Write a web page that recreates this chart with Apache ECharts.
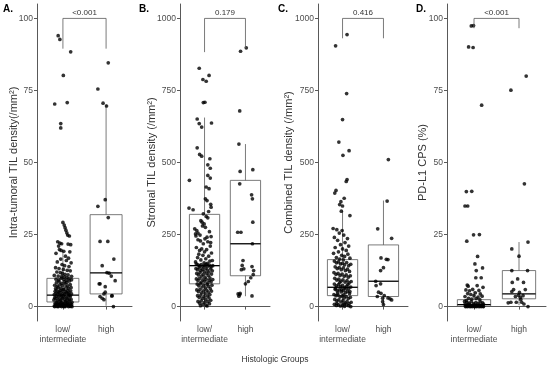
<!DOCTYPE html>
<html><head><meta charset="utf-8">
<script src="https://cdn.jsdelivr.net/npm/echarts@6/dist/echarts.min.js"></script>
<style>html,body{margin:0;padding:0;background:#fff}#c{width:550px;height:372px}</style>
</head><body><div id="c"></div><script>
// ---------- data ----------
const groups = ['low/\nintermediate', 'high'];
const panelLetters = ['A.', 'B.', 'C.', 'D.'];
const yTitles = ['Intra-tumoral TIL density(/mm²)', 'Stromal TIL density (/mm²)', 'Combined TIL density (/mm²)', 'PD-L1 CPS (%)'];
const xTitle = 'Histologic Groups';
const ticksPct = [0, 25, 50, 75, 100];
const ticksDens = [0, 250, 500, 750, 1000];
const pValues = ['<0.001', '0.179', '0.416', '<0.001'];

// points: [jittered group position, value]
const aLow = [
[0.89,94.0],[0.93,92.7],[1.18,88.4],[1.01,80.2],[1.10,70.8],[0.81,70.3],[0.95,63.5],[0.95,62.0],
[1.00,29.2],[1.03,28.3],[1.05,27.4],[1.07,26.5],[1.09,25.6],[1.11,24.8],[1.15,24.5],
[0.88,22.5],[0.93,22.0],[0.97,21.8],[1.12,21.7],[1.18,21.5],[0.90,21.0],
[0.92,19.8],[0.96,19.5],[1.02,19.2],[1.16,19.0],[0.84,18.5],
[1.06,17.5],[1.13,16.8],[0.95,16.5],[1.08,16.0],[0.87,15.5],[1.19,15.2],
[0.98,14.6],[1.04,14.2],[1.14,13.9],[0.83,13.5],[0.91,13.2],[1.01,12.9],[1.10,12.6],[1.17,12.4],
[0.86,12.0],[0.94,11.8],[0.99,11.5],[1.05,11.2],[1.12,11.0],[0.80,10.8],[0.89,10.6],[0.97,10.4],[1.03,10.3],[1.09,10.1],[1.20,10.5],
[0.84,9.5],[0.90,9.2],[0.96,9.8],[1.02,9.4],[1.08,9.1],[1.14,9.7],[1.20,9.3],
[0.85,8.3],[0.91,8.8],[0.97,8.1],[1.03,8.6],[1.09,8.4],[1.15,8.9],
[0.81,7.4],[0.87,7.1],[0.93,7.7],[0.99,7.3],[1.05,7.9],[1.11,7.2],[1.17,7.6],
[0.83,6.2],[0.89,6.7],[0.95,6.4],[1.01,6.1],[1.07,6.8],[1.13,6.3],[1.19,6.6],
[0.82,5.3],[0.86,5.8],[0.90,5.1],[0.94,5.6],[0.98,5.4],[1.02,5.9],[1.06,5.2],[1.10,5.7],[1.14,5.0],[1.18,5.5],
[0.80,4.2],[0.84,4.7],[0.88,4.4],[0.92,4.9],[0.96,4.1],[1.00,4.6],[1.04,4.3],[1.08,4.8],[1.12,4.5],[1.16,4.0],[1.20,4.4],
[0.81,3.1],[0.85,3.6],[0.89,3.3],[0.93,3.9],[0.97,3.2],[1.01,3.7],[1.05,3.4],[1.09,3.0],[1.13,3.8],[1.17,3.5],
[0.79,2.3],[0.83,2.8],[0.87,2.1],[0.91,2.6],[0.95,2.2],[0.99,2.9],[1.03,2.4],[1.07,2.0],[1.11,2.7],[1.15,2.3],[1.19,2.5],
[0.82,1.2],[0.86,1.6],[0.90,1.1],[0.94,1.9],[0.98,1.4],[1.02,1.0],[1.06,1.7],[1.10,1.3],[1.14,1.8],[1.18,1.1],[1.21,1.5],
[0.80,0.2],[0.84,0.5],[0.88,0.1],[0.92,0.8],[0.96,0.3],[1.00,0.6],[1.04,0.1],[1.08,0.9],[1.12,0.4],[1.16,0.2],[1.20,0.7],
[0.81,0.0],[0.85,0.1],[0.89,0.0],[0.93,0.2],[0.97,0.0],[1.01,0.1],[1.05,0.0],[1.09,0.3],[1.13,0.0],[1.17,0.1],[1.21,0.0],
[0.83,0.7],[0.87,0.9],[0.91,0.5],[0.95,1.0],[0.99,0.8],[1.03,0.6],[1.07,0.4],[1.11,0.9],[1.15,0.6],[1.19,0.3]
];
const aHigh = [
[2.05,84.6],[1.81,75.5],[1.93,70.6],[2.01,69.6],[1.98,37.1],[1.81,34.8],[2.05,30.9],[1.86,22.6],[2.04,22.6],
[2.18,16.5],[1.91,14.2],[2.02,11.8],[2.07,11.6],[2.12,10.6],[2.21,9.0],[1.84,7.9],[1.86,7.9],[1.98,6.9],
[1.98,5.0],[1.95,4.4],[1.86,3.5],[1.91,2.9],[1.95,2.4],[2.13,3.7],[2.14,3.8],[2.17,0.0]
];
const bLow = [
[0.87,827],[1.11,802],[0.96,788],[1.04,782],[0.97,708],[1.01,709],[0.82,651],[0.87,635],[0.93,623],[1.17,637],
[0.82,551],[0.88,528],[0.93,522],[1.13,513],[1.08,492],[1.14,480],[0.63,438],[1.08,455],[1.14,446],[1.04,415],
[1.11,409],[1.02,374],[1.06,368],[1.15,355],[1.16,345],[0.62,342],[0.97,322],[1.04,313],[1.08,308],[0.91,298],
[0.94,293],[0.99,287],[1.10,330],[0.72,336],
[0.81,264],[0.84,255],[0.89,248],[1.06,241],[1.16,243],[0.84,232],[0.97,218],[0.76,270],[0.78,252],[0.79,245],
[1.12,260],[0.95,280],[1.02,275],[0.90,228],[1.08,225],[1.14,210],[0.80,205],[0.93,200],[1.05,198],[1.00,190],
[1.17,186],[0.86,182],[0.96,178],[1.10,175],[0.83,170],[1.03,166],[0.91,162],[1.13,158],[0.78,155],[0.99,152],
[1.07,150],[1.19,160],[0.88,195],[1.01,235],[1.15,222],
[0.80,148],[0.84,145],[0.88,141],[0.92,146],[0.96,139],[1.00,143],[1.04,147],[1.08,140],[1.12,144],[1.16,138],[1.20,142],
[0.79,132],[0.83,128],[0.87,135],[0.91,125],[0.95,130],[0.99,122],[1.03,133],[1.07,127],[1.11,120],[1.15,131],[1.19,124],
[0.81,115],[0.85,110],[0.89,118],[0.93,106],[0.97,112],[1.01,102],[1.05,116],[1.09,108],[1.13,100],[1.17,113],
[0.80,96],[0.84,90],[0.88,98],[0.92,85],[0.96,93],[1.00,88],[1.04,95],[1.08,82],[1.12,91],[1.16,86],[1.20,94],
[0.82,78],[0.86,72],[0.90,80],[0.94,68],[0.98,75],[1.02,65],[1.06,77],[1.10,70],[1.14,62],[1.18,74],
[0.81,58],[0.85,52],[0.89,60],[0.93,48],[0.97,55],[1.01,45],[1.05,57],[1.09,50],[1.13,42],[1.17,54],
[0.83,38],[0.87,32],[0.91,40],[0.95,28],[0.99,35],[1.03,25],[1.07,37],[1.11,30],[1.15,22],
[0.84,18],[0.88,12],[0.92,20],[0.96,8],[1.00,15],[1.04,5],[1.08,17],[1.12,10],[0.90,3],[1.06,2]
];
const bHigh = [
[1.88,886],[2.02,898],[1.86,679],[1.84,564],[1.87,469],[2.18,475],[1.86,426],[2.15,388],[2.17,374],[2.18,293],
[1.81,258],[1.89,258],[2.17,218],[1.94,160],[1.92,143],[1.96,131],[1.90,128],[2.16,139],[2.20,125],[2.19,111],
[2.13,100],[2.07,87],[2.00,79],[1.82,44],[1.86,42],[1.84,36],[2.16,37],[1.87,46]
];
const cLow = [
[0.83,905],[1.11,944],[1.10,739],[1.00,649],[0.91,571],[1.16,541],[1.01,525],[1.11,441],[1.09,434],[0.84,403],
[0.81,394],[1.04,376],[0.96,364],[0.93,354],[1.00,349],[0.97,331],[1.18,316],[0.77,271],[0.86,267],[0.99,264],
[0.92,255],[1.03,248],[0.80,240],[1.12,236],[0.88,230],[1.06,222],[0.95,215],[1.15,210],[0.82,205],[1.00,200],
[1.09,195],[0.90,190],[0.78,185],[1.13,182],[0.98,178],[1.05,174],[0.85,170],[1.18,168],[0.93,165],[1.02,162],
[0.80,158],[0.85,152],[0.90,155],[0.95,148],[1.00,150],[1.05,145],[1.10,153],[1.15,142],[1.20,147],
[0.82,138],[0.87,132],[0.92,135],[0.97,128],[1.02,134],[1.07,125],[1.12,130],[1.17,122],
[0.79,118],[0.84,112],[0.89,115],[0.94,108],[0.99,113],[1.04,105],[1.09,110],[1.14,102],[1.19,107],
[0.81,98],[0.86,92],[0.91,95],[0.96,88],[1.01,93],[1.06,85],[1.11,90],[1.16,82],[1.21,87],
[0.80,78],[0.85,72],[0.90,76],[0.95,69],[1.00,74],[1.05,66],[1.10,71],[1.15,63],[1.20,68],
[0.82,60],[0.87,55],[0.92,58],[0.97,51],[1.02,56],[1.07,48],[1.12,53],[1.17,45],
[0.79,42],[0.84,38],[0.89,40],[0.94,34],[0.99,37],[1.04,30],[1.09,35],[1.14,28],[1.19,32],
[0.81,25],[0.86,20],[0.91,23],[0.96,16],[1.01,21],[1.06,13],[1.11,18],[1.16,10],[1.21,15],
[0.80,8],[0.85,4],[0.90,6],[0.95,2],[1.00,5],[1.05,1],[1.10,7],[1.15,3],[1.20,0],
[0.83,64],[0.88,47],[0.93,83],[0.98,59],[1.03,41],[1.08,62],[1.13,77],[1.18,52],[0.86,11],[1.04,9]
];
const cHigh = [
[2.12,510],[2.09,366],[1.86,270],[2.20,237],[1.94,169],[2.07,164],[2.11,163],[2.00,135],[1.93,125],[1.81,88],
[1.82,73],[1.93,79],[1.88,50],[1.94,46],[2.02,38],[2.11,30],[2.16,27],[2.20,23],[1.98,29],[1.85,35],
[2.00,7],[1.98,17]
];
const dLow = [
[0.94,97.4],[0.99,97.5],[0.88,90.1],[0.98,89.9],[1.17,69.9],[0.83,39.9],[0.95,40.0],[0.80,34.9],[0.86,34.9],
[0.99,24.9],[1.12,25.0],[0.84,22.7],[1.08,17.4],[1.02,14.8],[1.19,13.4],[1.05,12.5],[1.04,10.0],[1.16,10.0],
[0.85,7.5],[0.87,7.1],[1.07,7.3],[1.20,6.7],
[0.82,5.8],[0.90,5.5],[0.97,6.0],[1.11,5.6],[1.03,4.8],[0.86,4.5],[0.93,4.2],[1.14,4.4],[1.00,3.8],[0.80,3.5],
[1.09,3.3],[1.18,3.6],[0.88,2.9],[0.95,2.6],[1.05,2.8],[1.13,2.4],[0.83,2.1],
[0.79,1.8],[0.84,1.5],[0.89,1.2],[0.94,1.7],[0.99,1.0],[1.04,1.4],[1.09,1.1],[1.14,1.6],[1.19,1.3],[1.21,0.9],
[0.80,0.8],[0.85,0.5],[0.90,0.7],[0.95,0.3],[1.00,0.6],[1.05,0.2],[1.10,0.5],[1.15,0.4],[1.20,0.1],
[0.81,0],[0.83,0.1],[0.86,0],[0.88,0.2],[0.91,0],[0.93,0.1],[0.96,0],[0.98,0.2],[1.01,0],[1.03,0.1],
[1.06,0],[1.08,0.3],[1.11,0],[1.13,0.1],[1.16,0],[1.18,0.2],[1.21,0]
];
const dHigh = [
[2.16,80.0],[1.82,75.1],[2.12,42.6],[2.20,22.4],[1.84,20.0],[2.00,17.5],[1.84,12.5],[2.19,12.5],[1.97,9.6],
[1.85,8.4],[2.10,8.4],[1.88,5.9],[2.14,5.9],[1.84,5.2],[2.01,4.9],[1.99,3.9],[2.09,3.8],[1.92,3.5],[2.03,3.2],
[1.82,1.5],[1.94,1.5],[1.76,1.3],[2.06,1.5],[2.11,0.9],[2.20,0.0],[2.04,2.5]
];

// boxes: [group, lower whisker, Q1, median, Q3, upper whisker]
const aBox = [[1, 0, 1.6, 4.0, 9.8, 19.5], [2, 0.3, 4.4, 11.7, 31.9, 70.2]];
const bBox = [[1, 3, 79, 142, 320, 656], [2, 36, 107, 218, 438, 564]];
const cBox = [[1, 0, 38, 67, 163, 334], [2, 5, 35, 88, 214, 368]];
const dBox = [[1, 0, 0.1, 0.7, 2.4, 5.5], [2, 0.5, 2.7, 4.4, 12.5, 22.4]];

// brackets: [from group, to group, top, left leg end, right leg end]
const aBracket = [1, 2, 100, 89.5, 89.5];
const bBracket = [1, 2, 1000, 883, 897];
const cBracket = [1, 2, 1000, 931, 931];
const dBracket = [1, 2, 100, 96.6, 96.6];

// ---------- layout / style ----------
const FONT = 'Liberation Sans, Arial, sans-serif';
const panels = [
  {left: 37, width: 95, min: -5, max: 105, ticks: ticksPct, nameGap: 18, letterX: 3, low: aLow, high: aHigh, box: aBox, br: aBracket},
  {left: 180, width: 90, min: -50, max: 1050, ticks: ticksDens, nameGap: 23, letterX: 139, low: bLow, high: bHigh, box: bBox, br: bBracket},
  {left: 318, width: 90, min: -50, max: 1050, ticks: ticksDens, nameGap: 24, letterX: 278, low: cLow, high: cHigh, box: cBox, br: cBracket},
  {left: 447, width: 99, min: -5, max: 105, ticks: ticksPct, nameGap: 19, letterX: 416, low: dLow, high: dHigh, box: dBox, br: dBracket}
];
const TOP = 4, HEIGHT = 317;

function renderBox(params, api) {
  const x = api.value(0), hw = 0.37;
  const tl = api.coord([x - hw, api.value(4)]);
  const br = api.coord([x + hw, api.value(2)]);
  const mL = api.coord([x - hw, api.value(3)]);
  const mR = api.coord([x + hw, api.value(3)]);
  const wLo = api.coord([x, api.value(1)]);
  const q1 = api.coord([x, api.value(2)]);
  const q3 = api.coord([x, api.value(4)]);
  const wHi = api.coord([x, api.value(5)]);
  const st = {stroke: '#595959', lineWidth: 0.8, fill: null};
  return {type: 'group', children: [
    {type: 'line', shape: {x1: wHi[0], y1: wHi[1], x2: q3[0], y2: q3[1]}, style: st},
    {type: 'line', shape: {x1: q1[0], y1: q1[1], x2: wLo[0], y2: wLo[1]}, style: st},
    {type: 'rect', shape: {x: tl[0], y: tl[1], width: br[0] - tl[0], height: br[1] - tl[1]}, style: {stroke: '#595959', lineWidth: 0.8, fill: 'rgba(255,255,255,0)'}},
    {type: 'line', shape: {x1: mL[0], y1: mL[1], x2: mR[0], y2: mR[1]}, style: {stroke: '#000', lineWidth: 1.3}}
  ]};
}
function makeBracketRenderer(label) {
  return function (params, api) {
    const x1 = api.value(0), x2 = api.value(1), top = api.value(2);
    const a = api.coord([x1, api.value(3)]), b = api.coord([x1, top]);
    const c = api.coord([x2, top]), d = api.coord([x2, api.value(4)]);
    return {type: 'group', children: [
      {type: 'polyline', shape: {points: [a, b, c, d]}, style: {stroke: '#595959', lineWidth: 0.8, fill: null}},
      {type: 'text', x: (b[0] + c[0]) / 2, y: b[1] - 1.5, style: {text: label, fill: '#333', fontSize: 8, fontFamily: FONT, align: 'center', verticalAlign: 'bottom'}}
    ]};
  };
}

const grid = [], xAxis = [], yAxis = [], series = [], graphic = [];
panels.forEach((p, i) => {
  grid.push({left: p.left, width: p.width, top: TOP, height: HEIGHT, containLabel: false});
  xAxis.push({
    type: 'value', gridIndex: i, min: 0.4, max: 2.6,
    splitLine: {show: false},
    axisLine: {show: true, lineStyle: {color: '#595959', width: 1}},
    axisTick: {show: true, customValues: [1, 2], length: 3, lineStyle: {color: '#595959'}},
    axisLabel: {customValues: [1, 2], formatter: v => groups[Math.round(v) - 1], color: '#4d4d4d',
      fontSize: 8.5, fontFamily: FONT, margin: 4, lineHeight: 9.5}
  });
  yAxis.push({
    type: 'value', gridIndex: i, min: p.min, max: p.max,
    splitLine: {show: false},
    axisLine: {show: true, lineStyle: {color: '#595959', width: 1}},
    axisTick: {show: true, customValues: p.ticks, length: 3, lineStyle: {color: '#595959'}},
    axisLabel: {customValues: p.ticks, formatter: v => String(v), color: '#4d4d4d', fontSize: 8.5, fontFamily: FONT, margin: 4},
    name: yTitles[i], nameLocation: 'middle', nameRotate: 90, nameGap: p.nameGap, nameMoveOverlap: false,
    nameTextStyle: {color: '#333', fontSize: 11, fontFamily: FONT}
  });
  series.push({type: 'custom', xAxisIndex: i, yAxisIndex: i, renderItem: renderBox, data: p.box,
    encode: {x: 0, y: [1, 2, 3, 4, 5]}, z: 1, silent: true});
  series.push({type: 'scatter', xAxisIndex: i, yAxisIndex: i, data: p.low.concat(p.high),
    symbolSize: 3.7, itemStyle: {color: '#000'}, z: 2, silent: true});
  series.push({type: 'custom', xAxisIndex: i, yAxisIndex: i, renderItem: makeBracketRenderer(pValues[i]),
    data: [p.br], encode: {x: [0, 1], y: [2, 3, 4]}, z: 3, silent: true, clip: false});
  graphic.push({type: 'text', left: p.letterX, top: 4, style: {text: panelLetters[i], fill: '#000', font: 'bold 10px ' + FONT}});
});
graphic.push({type: 'text', left: 'center', top: 355, style: {text: xTitle, fill: '#333', fontSize: 8.5, fontFamily: FONT}});

const chart = echarts.init(document.getElementById('c'), null, {renderer: 'canvas'});
chart.setOption({animation: false, backgroundColor: '#fff', grid, xAxis, yAxis, series, graphic});
</script></body></html>
